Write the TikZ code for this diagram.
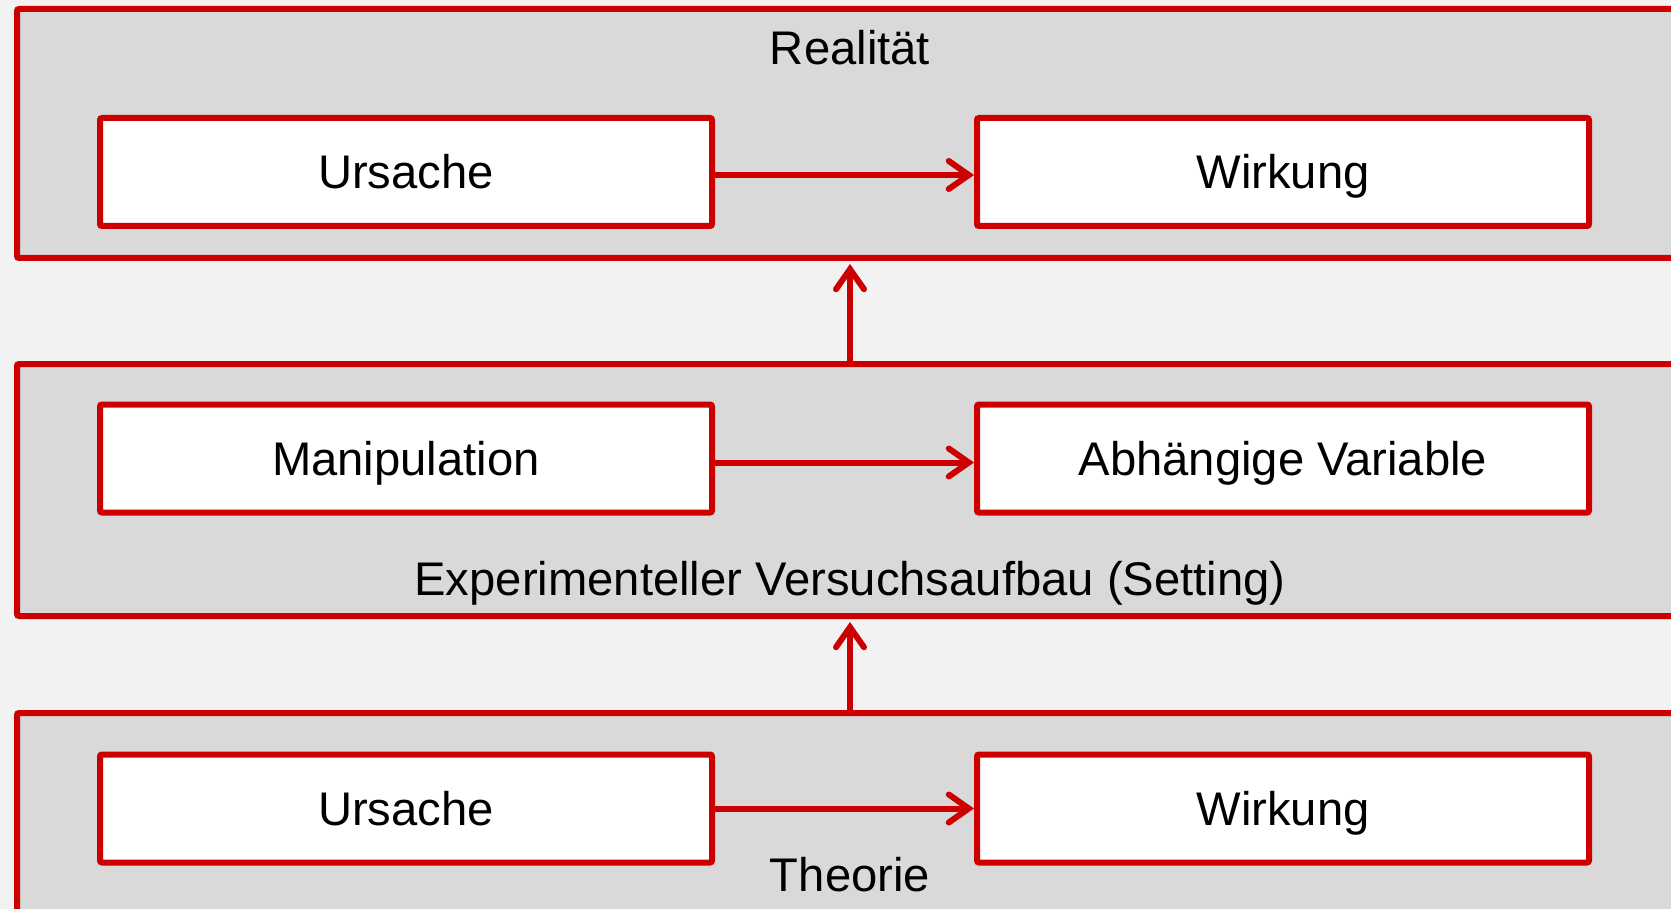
\documentclass[tikz,border=0pt]{standalone}
\usepackage{fontspec}
\setmainfont{Liberation Sans}
\usetikzlibrary{arrows.meta}
\definecolor{myred}{HTML}{CC0000}
\definecolor{panelgray}{HTML}{D9D9D9}
\definecolor{bggray}{HTML}{F2F2F2}
\begin{document}
\begin{tikzpicture}[x=1pt,y=-1pt,
  panel/.style={draw=myred, fill=panelgray, line width=6pt, rounded corners=2pt, inner sep=0pt, minimum width=1703pt},
  box/.style={draw=myred, fill=white, line width=6pt, rounded corners=2pt, minimum width=612pt, minimum height=108pt, inner sep=0pt, font=\fontsize{47.2}{50}\selectfont, text height=33pt, text depth=0pt},
  lbl/.style={font=\fontsize{47.2}{50}\selectfont, inner sep=0pt, text height=33pt, text depth=0pt},
  arr/.style={draw=myred, line width=6pt, -{Straight Barb[length=20pt,width=28pt,line cap=round]}}]
\clip (0,0) rectangle (1671,909);
\fill[bggray] (0,0) rectangle (1671,909);
% panels
\node[panel, minimum height=249pt] (p1) at (868.5,133.5) {};
\node[panel, minimum height=252pt] (p2) at (868.5,490) {};
\node[panel, minimum height=247pt] (p3) at (868.5,836.5) {};
% labels
\node[lbl] (l1) at (850,48) {Realität};
\node[lbl] (l2) at (850,579) {Experimenteller Versuchsaufbau (Setting)};
\node[lbl] (l3) at (850,875) {Theorie};
% inner boxes
\node[box] (u1) at (406,172) {Ursache};
\node[box] (w1) at (1283,172) {Wirkung};
\node[box] (u2) at (406,458.5) {Manipulation};
\node[box] (w2) at (1283,458.5) {Abhängige Variable};
\node[box] (u3) at (406,808.5) {Ursache};
\node[box] (w3) at (1283,808.5) {Wirkung};
% arrows
\draw[arr] ([yshift=-3pt]u1.east) -- ([yshift=-3pt]w1.west);
\draw[arr] ([yshift=-4pt]u2.east) -- ([yshift=-4pt]w2.west);
\draw[arr] (u3) -- (w3);
\coordinate (m) at (850,0);
\draw[arr, shorten >=3pt] (p2.north -| m) -- (p1.south -| m);
\draw[arr, shorten >=3pt] (p3.north -| m) -- (p2.south -| m);
\end{tikzpicture}
\end{document}
